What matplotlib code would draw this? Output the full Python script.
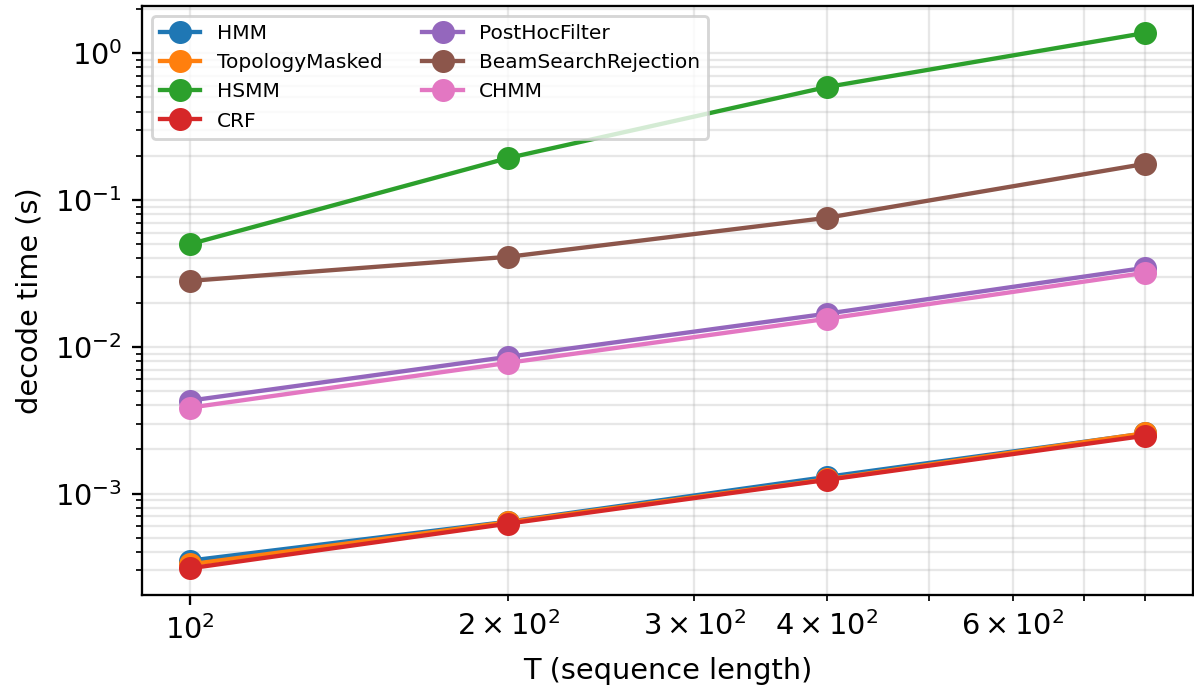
import matplotlib
matplotlib.use('Agg')
import matplotlib.pyplot as plt

# sequence lengths
T = [100, 200, 400, 800]

# decode times (s)
hmm = [0.00035, 0.000645, 0.0013, 0.00257]
topology_masked = [0.00033, 0.00064, 0.00125, 0.00258]
hsmm = [0.050, 0.193, 0.587, 1.37]
crf = [0.00031, 0.000625, 0.00124, 0.00248]
post_hoc_filter = [0.0043, 0.00855, 0.0168, 0.0345]
beam_search_rejection = [0.0281, 0.041, 0.0755, 0.176]
chmm = [0.00385, 0.00778, 0.0155, 0.0319]

series = [
    ('HMM', hmm),
    ('TopologyMasked', topology_masked),
    ('HSMM', hsmm),
    ('CRF', crf),
    ('PostHocFilter', post_hoc_filter),
    ('BeamSearchRejection', beam_search_rejection),
    ('CHMM', chmm),
]

DPI = 207
fig, ax = plt.subplots(figsize=(1194 / DPI, 692 / DPI), dpi=DPI)
fig.subplots_adjust(left=0.119, right=0.999, top=0.991, bottom=0.140)

for name, vals in series:
    ax.plot(T, vals, marker='o', markersize=7, linewidth=1.5, label=name)

ax.set_xscale('log')
ax.set_yscale('log')
ax.set_xlabel('T (sequence length)')
ax.set_ylabel('decode time (s)')
ax.grid(True, which='both', alpha=0.3)
ax.legend(ncol=2, loc='upper left', fontsize=7)

plt.savefig('out.png', dpi=DPI)
plt.close()
